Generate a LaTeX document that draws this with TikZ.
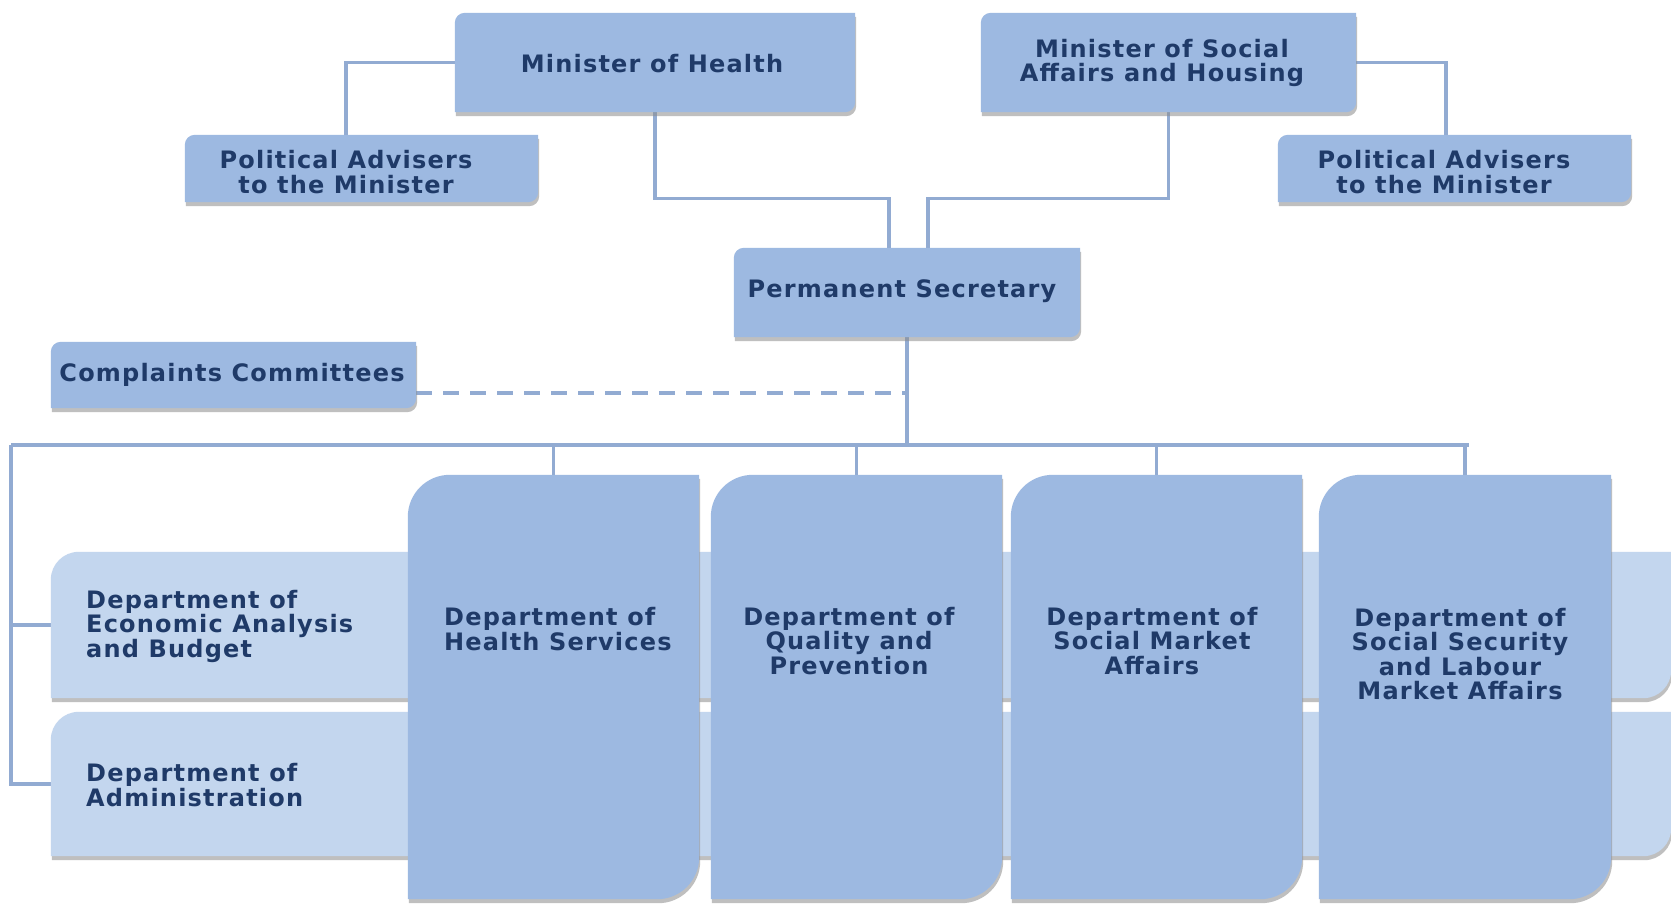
\documentclass[tikz,border=0pt]{standalone}
\usepackage{fontspec}
\newfontfamily\lblfont{DejaVu Sans Bold}[LetterSpace=5]
\usetikzlibrary{shadows}
\definecolor{boxfill}{HTML}{9DB9E1}
\definecolor{rowfill}{HTML}{C3D6EE}
\definecolor{txtcol}{HTML}{1F3A68}
\definecolor{conncol}{HTML}{92ABD2}
\newcommand\diagfill[3]{%
  \fill[#3] (#1.west) [rounded corners=#2] -- (#1.north west) -- (#1.north) [sharp corners] -- (#1.north east) -- (#1.east) [rounded corners=#2] -- (#1.south east) -- (#1.south) [sharp corners] -- (#1.south west) -- cycle;}
\tikzset{
  frame/.style={shape=rectangle, inner sep=0pt, draw=none, fill=none},
  lbl/.style={text=txtcol, font=\lblfont\fontsize{24}{24.5}\selectfont, inner sep=0pt, align=center},
  boxstyle/.style={fill=boxfill, drop shadow={shadow xshift=1pt, shadow yshift=-4pt, fill=black!45, opacity=.55}},
  rowstyle/.style={fill=rowfill, drop shadow={shadow xshift=1pt, shadow yshift=-4pt, fill=black!45, opacity=.55}},
  conn/.style={draw=conncol, line width=3.2pt},
}
\begin{document}
\begin{tikzpicture}[x=1pt,y=-1pt]
\useasboundingbox[fill=white] (0,0) rectangle (1671,903);

\node[frame, minimum width=400pt, minimum height=99pt] (mh) at (655,62.5) {};
\node[frame, minimum width=375pt, minimum height=99pt] (ms) at (1168.5,62.5) {};
\node[frame, minimum width=353pt, minimum height=67pt] (pal) at (361.5,168.5) {};
\node[frame, minimum width=353pt, minimum height=67pt] (par) at (1454.5,168.5) {};
\node[frame, minimum width=346pt, minimum height=89pt] (ps) at (907,292.5) {};
\node[frame, minimum width=365pt, minimum height=66pt] (cc) at (233.5,375) {};
\node[frame, minimum width=1620pt, minimum height=146pt] (eab) at (861,625) {};
\node[frame, minimum width=1620pt, minimum height=144pt] (adm) at (861,784) {};
\node[frame, minimum width=291pt, minimum height=424pt] (hs) at (553.5,687) {};
\node[frame, minimum width=291pt, minimum height=424pt] (qp) at (856.5,687) {};
\node[frame, minimum width=291pt, minimum height=424pt] (sm) at (1156.5,687) {};
\node[frame, minimum width=292pt, minimum height=424pt] (ss) at (1465,687) {};

\coordinate (palc) at (346,135);
\coordinate (parc) at (1446,135);
\coordinate (psl) at (889,248);
\coordinate (psr) at (928,248);
\coordinate (busL) at (11,445);
\coordinate (busR) at (1469,445);
\coordinate (dashL) at (416,393);
\coordinate (dashR) at (907,393);

\draw[conn] (mh.west) -| (palc);
\draw[conn] (ms.east) -| (parc);
\draw[conn] (mh.south) -- ++(0,86) -| (psl);
\draw[conn] (ms.south) -- ++(0,86) -| (psr);
\draw[conn] (ps.south) -- (ps.south |- busL);
\draw[conn, dash pattern=on 16pt off 11pt] (dashL) -- (dashR);
\draw[conn] (busL) -- (busR);
\draw[conn] (busL) |- (adm.west);
\draw[conn] (eab.west) -- (eab.west -| busL);
\draw[conn] (hs.north |- busL) -- (hs.north);
\draw[conn] (qp.north |- busL) -- (qp.north);
\draw[conn] (sm.north |- busL) -- (sm.north);
\draw[conn] (ss.north |- busL) -- (ss.north);

\diagfill{mh}{10pt}{boxstyle}
\diagfill{ms}{10pt}{boxstyle}
\diagfill{pal}{10pt}{boxstyle}
\diagfill{par}{10pt}{boxstyle}
\diagfill{ps}{10pt}{boxstyle}
\diagfill{cc}{10pt}{boxstyle}
\diagfill{eab}{28pt}{rowstyle}
\diagfill{adm}{28pt}{rowstyle}
\diagfill{hs}{42pt}{boxstyle}
\diagfill{qp}{42pt}{boxstyle}
\diagfill{sm}{42pt}{boxstyle}
\diagfill{ss}{42pt}{boxstyle}

\node[lbl] (mht) at (652,64) {Minister of Health};
\node[lbl] (mst) at (1162,63) {Minister of Social\\Affairs and Housing};
\node[lbl] (palt) at (346,172) {Political Advisers\\to the Minister};
\node[lbl] (part) at (1444,172) {Political Advisers\\to the Minister};
\node[lbl] (pst) at (902,291) {Permanent Secretary};
\node[lbl] (cct) at (232,375) {Complaints Committees};
\node[lbl, align=left, anchor=west] (eabt) at (86,626) {Department of\\Economic Analysis\\and Budget};
\node[lbl, align=left, anchor=west] (admt) at (86,785) {Department of\\Administration};
\node[lbl, align=left, anchor=west] (hst) at (444,629) {Department of\\Health Services};
\node[lbl] (qpt) at (849,641) {Department of\\Quality and\\Prevention};
\node[lbl] (smt) at (1152,641) {Department of\\Social Market\\Affairs};
\node[lbl] (sst) at (1460,654) {Department of\\Social Security\\and Labour\\Market Affairs};
\end{tikzpicture}
\end{document}
